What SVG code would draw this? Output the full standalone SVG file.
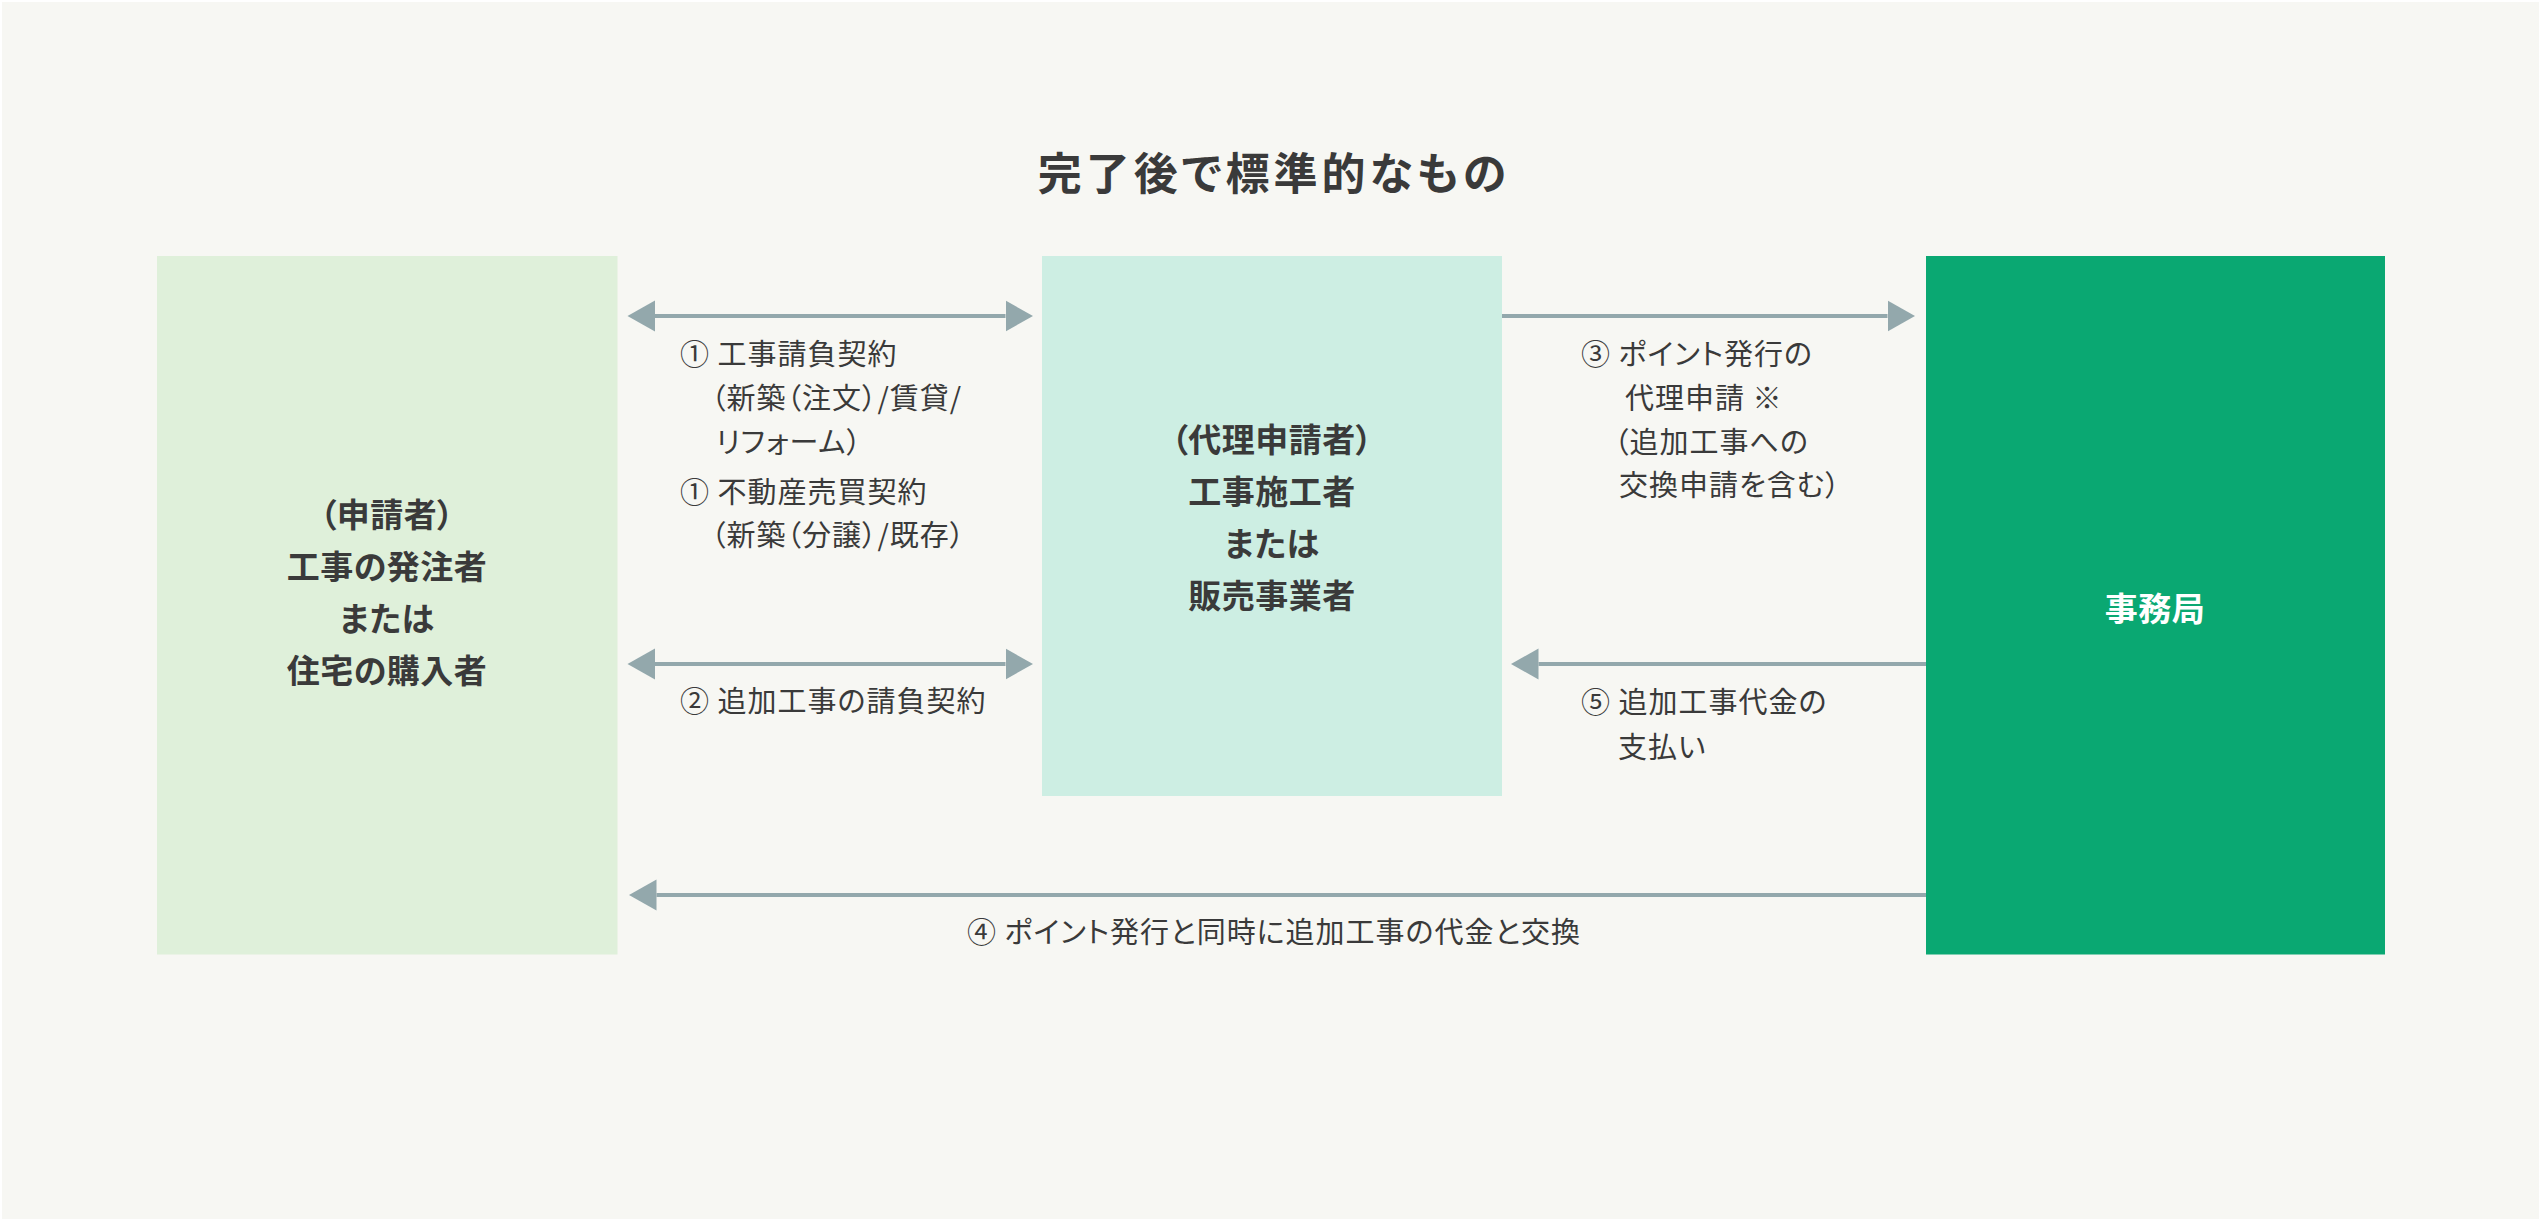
<svg xmlns="http://www.w3.org/2000/svg" width="2541" height="1221" viewBox="0 0 2541 1221">
<style>
text{font-family:"Noto Sans CJK JP","Noto Sans",sans-serif;fill:#3a3a3a;font-feature-settings:"palt";}
.t{font-size:44px;font-weight:700;letter-spacing:4px;}
.n{font-size:33px;font-weight:700;letter-spacing:0.5px;}
.w{fill:#ffffff;}
.l{font-size:29px;font-weight:400;letter-spacing:1px;}
.c{stroke:#93a8ac;stroke-width:4;fill:none;}
</style>
<defs>
<marker id="ah" markerUnits="userSpaceOnUse" markerWidth="28" markerHeight="32" refX="0" refY="15.5" orient="auto-start-reverse" viewBox="0 0 28 31">
<path d="M0,0 L27.5,15.5 L0,31 Z" fill="#93a8ac"/>
</marker>
</defs>
<rect x="0" y="0" width="2541" height="1221" fill="#ffffff"/>
<rect x="2" y="2" width="2537" height="1217" fill="#f7f7f3"/>
<text class="t" x="1274" y="190" text-anchor="middle">完了後で標準的なもの</text>
<g id="node-applicant">
<rect x="157" y="256" width="460.5" height="698.5" fill="#dff0da"/>
<text class="n" text-anchor="middle"><tspan x="387" y="527">（申請者）</tspan><tspan x="387" y="579">工事の発注者</tspan><tspan x="387" y="631">または</tspan><tspan x="387" y="683">住宅の購入者</tspan></text>
</g>
<g id="node-agent">
<rect x="1042" y="256" width="460" height="540" fill="#cdeee3"/>
<text class="n" text-anchor="middle"><tspan x="1272" y="452">（代理申請者）</tspan><tspan x="1272" y="504">工事施工者</tspan><tspan x="1272" y="556">または</tspan><tspan x="1272" y="608">販売事業者</tspan></text>
</g>
<g id="node-office">
<rect x="1926" y="256" width="459" height="698.5" fill="#0aa872"/>
<text class="n w" x="2155" y="621" text-anchor="middle">事務局</text>
</g>
<g id="connectors">
<line class="c" x1="655" y1="316" x2="1005.5" y2="316" marker-start="url(#ah)" marker-end="url(#ah)"/>
<line class="c" x1="655" y1="664" x2="1005.5" y2="664" marker-start="url(#ah)" marker-end="url(#ah)"/>
<line class="c" x1="1502" y1="316" x2="1887.5" y2="316" marker-end="url(#ah)"/>
<line class="c" x1="1926" y1="664" x2="1538.5" y2="664" marker-end="url(#ah)"/>
<line class="c" x1="1926" y1="895" x2="656.5" y2="895" marker-end="url(#ah)"/>
</g>
<g id="labels">
<text class="l"><tspan x="680" y="365">① 工事請負契約</tspan><tspan x="711" y="409">（新築（注文）/賃貸/</tspan><tspan x="716" y="453">リフォーム）</tspan><tspan x="680" y="503">① 不動産売買契約</tspan><tspan x="711" y="546">（新築（分譲）/既存）</tspan></text>
<text class="l" x="680" y="712">② 追加工事の請負契約</text>
<text class="l"><tspan x="1581" y="365">③ ポイント発行の</tspan><tspan x="1625" y="409">代理申請 ※</tspan><tspan x="1614" y="453">（追加工事への</tspan><tspan x="1619" y="496">交換申請を含む）</tspan></text>
<text class="l"><tspan x="1581" y="713">⑤ 追加工事代金の</tspan><tspan x="1618" y="758">支払い</tspan></text>
<text class="l" x="967" y="943">④ ポイント発行と同時に追加工事の代金と交換</text>
</g>
</svg>
